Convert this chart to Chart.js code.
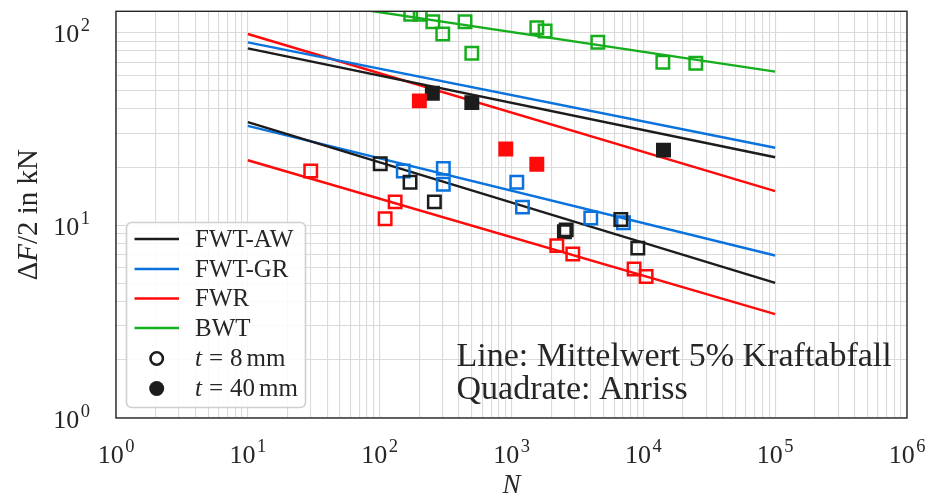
<!DOCTYPE html>
<html>
<head>
<meta charset="utf-8">
<script src="https://cdn.jsdelivr.net/npm/chart.js@4/dist/chart.umd.min.js"></script>
<style>
  html, body { margin: 0; padding: 0; background: #ffffff; }
  canvas { display: block; }
</style>
</head>
<body>
<canvas id="c" width="928" height="497"></canvas>
<script>
// Mean lines (5 % force drop), given at N = 10 and N = 1e5
const lineN = [10, 1e5];
const fwtAwLine40 = [82.6, 22.5];
const fwtGrLine40 = [88.7, 25.2];
const fwrLine40   = [98.0, 15.0];
const fwtAwLine8  = [34.2, 5.02];
const fwtGrLine8  = [32.7, 6.96];
const fwrLine8    = [21.7, 3.46];
const bwtLine     = [161, 62.5];

// Crack initiation, t = 8 mm (open squares)
const fwtAw8N = [101, 170, 260, 2520, 2600, 6750, 9080];
const fwtAw8F = [20.8, 16.7, 13.2, 9.25, 9.45, 10.7, 7.6];
const fwtGr8N = [151, 304, 304, 1097, 1211, 3993, 7070];
const fwtGr8F = [19.1, 19.7, 16.3, 16.7, 12.4, 10.9, 10.3];
const fwr8N   = [30, 110, 131, 2207, 2917, 8510, 10500];
const fwr8F   = [19.1, 10.8, 13.2, 7.83, 7.08, 5.92, 5.42];
const bwtN    = [172, 203, 253, 301, 444, 500, 1556, 1798, 4517, 14060, 25000];
const bwtF    = [124, 124, 113.5, 98, 113.5, 77.8, 105.6, 101.6, 88.8, 69.9, 69.1];

// Crack initiation, t = 40 mm (filled squares)
const fwtAw40N = [251, 500, 14220];
const fwtAw40F = [48.3, 43.2, 24.5];
const fwr40N   = [200, 905, 1556];
const fwr40F   = [44.1, 24.8, 20.7];

// Axis ranges and labelled decades
const xMin = 1, xMax = 1e6;
const yMin = 1, yMax = 128.5;
const xTickExp = [0, 1, 2, 3, 4, 5, 6];
const yTickExp = [0, 1, 2];

const seriesNames  = ['FWT-AW', 'FWT-GR', 'FWR', 'BWT'];
const seriesColors = ['#1c1c1c', '#0a72dc', '#ff0a0a', '#17ae1d'];
const [BLACK, BLUE, RED, GREEN] = seriesColors;

const SERIF = '"Liberation Serif", "DejaVu Serif", serif';
const TEXT = '#262626';

const pts = (xs, ys) => xs.map((x, i) => ({ x, y: ys[i] }));

function lineSet(vals, color) {
  return {
    type: 'line', data: pts(lineN, vals), borderColor: color, borderWidth: 2.4,
    pointRadius: 0, tension: 0, fill: false, order: 2
  };
}
function squareSet(xs, ys, color, filled) {
  return {
    type: 'scatter', data: pts(xs, ys), pointStyle: 'rect', pointRadius: 8.8,
    pointHoverRadius: 8.8, borderWidth: 2.5, borderColor: color,
    backgroundColor: filled ? color : 'rgba(0,0,0,0)', showLine: false, order: 1
  };
}

// all decade sub-divisions 1..9 x 10^k, used for the grid
function logGrid(min, max) {
  const out = [];
  for (let e = Math.floor(Math.log10(min)); e <= Math.ceil(Math.log10(max)); e++) {
    for (let m = 1; m <= 9; m++) {
      const v = m * Math.pow(10, e);
      if (v >= min * 0.9999 && v <= max * 1.0001) out.push({ value: v, major: m === 1 });
    }
  }
  return out;
}

function drawPow(ctx, exp, x, baseY, align) {
  ctx.font = '26px ' + SERIF;
  const w10 = ctx.measureText('10').width;
  ctx.font = '18.5px ' + SERIF;
  const we = ctx.measureText(String(exp)).width;
  const total = w10 + 1.5 + we;
  const x0 = align === 'right' ? x - total : x - total / 2;
  ctx.textAlign = 'left';
  ctx.textBaseline = 'alphabetic';
  ctx.font = '26px ' + SERIF;
  ctx.fillText('10', x0, baseY);
  ctx.font = '18.5px ' + SERIF;
  ctx.fillText(String(exp), x0 + w10 + 1.5, baseY - 11);
}

const decor = {
  id: 'decor',
  afterDatasetsDraw(chart) {
    const ctx = chart.ctx, a = chart.chartArea;
    const xs = chart.scales.x, ys = chart.scales.y;
    ctx.save();

    // annotation text
    ctx.fillStyle = TEXT;
    ctx.font = '34px ' + SERIF;
    ctx.textAlign = 'left';
    ctx.textBaseline = 'alphabetic';
    ctx.fillText('Line: Mittelwert 5% Kraftabfall', 456.5, 366);
    ctx.fillText('Quadrate: Anriss', 456.5, 399);

    // legend
    const bx = 126.5, by = 222.5, bw = 179, bh = 185;
    ctx.beginPath();
    ctx.roundRect(bx, by, bw, bh, 5);
    ctx.fillStyle = 'rgba(255,255,255,0.85)';
    ctx.fill();
    ctx.lineWidth = 1.6;
    ctx.strokeStyle = '#cfcfcf';
    ctx.stroke();

    const rowY = [239, 269, 298.5, 328, 358.5, 388.5];
    ctx.font = '25px ' + SERIF;
    ctx.textBaseline = 'middle';
    seriesNames.forEach((name, i) => {
      ctx.beginPath();
      ctx.moveTo(134.5, rowY[i]);
      ctx.lineTo(179, rowY[i]);
      ctx.strokeStyle = seriesColors[i];
      ctx.lineWidth = 2.5;
      ctx.stroke();
      ctx.fillStyle = TEXT;
      ctx.fillText(name, 195, rowY[i] + 1);
    });
    // thickness markers
    ctx.beginPath();
    ctx.arc(156.7, rowY[4], 6.2, 0, Math.PI * 2);
    ctx.lineWidth = 2.6;
    ctx.strokeStyle = BLACK;
    ctx.stroke();
    ctx.beginPath();
    ctx.arc(156.7, rowY[5], 7.5, 0, Math.PI * 2);
    ctx.fillStyle = BLACK;
    ctx.fill();

    const thickLabel = (val, y) => {
      let x = 195;
      ctx.fillStyle = TEXT;
      ctx.font = 'italic 25px ' + SERIF;
      ctx.fillText('t', x, y);
      x += ctx.measureText('t').width + 7;
      ctx.font = '25px ' + SERIF;
      ctx.fillText('=', x, y);
      x += ctx.measureText('=').width + 7;
      ctx.fillText(val, x, y);
      x += ctx.measureText(val).width + 4;
      ctx.fillText('mm', x, y);
    };
    thickLabel('8', rowY[4] + 1);
    thickLabel('40', rowY[5] + 1);

    // frame
    ctx.strokeStyle = '#262626';
    ctx.lineWidth = 1.4;
    ctx.strokeRect(a.left, a.top, a.right - a.left, a.bottom - a.top);

    // decade labels
    ctx.fillStyle = TEXT;
    xTickExp.forEach(e => drawPow(ctx, e, xs.getPixelForValue(Math.pow(10, e)), 463, 'center'));
    yTickExp.forEach(e => drawPow(ctx, e, 90, ys.getPixelForValue(Math.pow(10, e)) + 10, 'right'));

    // axis titles
    ctx.textBaseline = 'middle';
    ctx.textAlign = 'center';
    ctx.font = 'italic 27px ' + SERIF;
    ctx.fillText('N', (a.left + a.right) / 2, 486);

    ctx.save();
    ctx.translate(37, (a.top + a.bottom) / 2);
    ctx.rotate(-Math.PI / 2);
    ctx.textAlign = 'left';
    ctx.textBaseline = 'alphabetic';
    const segs = [['Δ', ''], ['F', 'italic '], ['/2 in kN', '']];
    let tw = 0;
    segs.forEach(([s, st]) => { ctx.font = st + '29px ' + SERIF; tw += ctx.measureText(s).width; });
    let tx = -tw / 2;
    segs.forEach(([s, st]) => {
      ctx.font = st + '29px ' + SERIF;
      ctx.fillText(s, tx, 0);
      tx += ctx.measureText(s).width;
    });
    ctx.restore();

    ctx.restore();
  }
};

const gridStyle = { color: '#dadada', lineWidth: 1.1, drawTicks: false };

new Chart(document.getElementById('c'), {
  data: {
    datasets: [
      lineSet(fwtAwLine40, BLACK),
      lineSet(fwtGrLine40, BLUE),
      lineSet(fwrLine40, RED),
      lineSet(fwtAwLine8, BLACK),
      lineSet(fwtGrLine8, BLUE),
      lineSet(fwrLine8, RED),
      lineSet(bwtLine, GREEN),
      squareSet(bwtN, bwtF, GREEN, false),
      squareSet(fwr8N, fwr8F, RED, false),
      squareSet(fwtAw8N, fwtAw8F, BLACK, false),
      squareSet(fwtGr8N, fwtGr8F, BLUE, false),
      squareSet(fwr40N, fwr40F, RED, true),
      squareSet(fwtAw40N, fwtAw40F, BLACK, true)
    ]
  },
  options: {
    responsive: false,
    devicePixelRatio: 1,
    animation: false,
    events: [],
    layout: { padding: { top: 11, right: 21, left: 0, bottom: 0 } },
    plugins: { legend: { display: false }, tooltip: { enabled: false } },
    scales: {
      x: {
        type: 'logarithmic', min: xMin, max: xMax, position: 'bottom',
        grid: gridStyle, border: { display: false },
        ticks: { display: false },
        afterBuildTicks: s => { s.ticks = logGrid(xMin, xMax); },
        afterFit: s => { s.height = 79; }
      },
      y: {
        type: 'logarithmic', min: yMin, max: yMax, position: 'left',
        grid: gridStyle, border: { display: false },
        ticks: { display: false },
        afterBuildTicks: s => { s.ticks = logGrid(yMin, yMax); },
        afterFit: s => { s.width = 116; }
      }
    }
  },
  plugins: [decor]
});
</script>
</body>
</html>
